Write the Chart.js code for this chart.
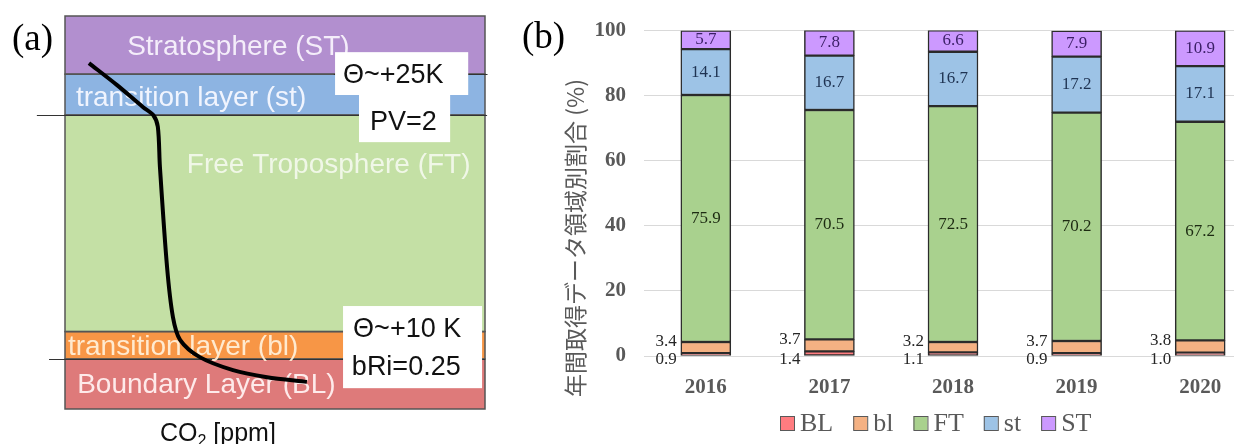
<!DOCTYPE html>
<html>
<head>
<meta charset="utf-8">
<script src="https://cdn.jsdelivr.net/npm/chart.js@4.4.1/dist/chart.umd.min.js"></script>
<style>
  html, body { margin: 0; padding: 0; background: #fff; overflow: hidden; width: 1234px; height: 444px; }
  #wrap { position: relative; width: 1234px; height: 444px; overflow: hidden; }
  #pa { position: absolute; left: 0; top: 0; }
  #pb { position: absolute; left: 520px; top: 0; }
</style>
</head>
<body>
<div id="wrap">
  <canvas id="pa" width="520" height="444"></canvas>
  <canvas id="pb" width="742" height="444"></canvas>
</div>
<script>
// ---- (b) yearly share of observations per region (%) ----
const years = ['2016', '2017', '2018', '2019', '2020'];
const regionNames = ['BL', 'bl', 'FT', 'st', 'ST'];
const shareBL = [0.9, 1.4, 1.1, 0.9, 1.0];
const shareBl = [3.4, 3.7, 3.2, 3.7, 3.8];
const shareFT = [75.9, 70.5, 72.5, 70.2, 67.2];
const shareSt = [14.1, 16.7, 16.7, 17.2, 17.1];
const shareST = [5.7, 7.8, 6.6, 7.9, 10.9];
const yTicks = [0, 20, 40, 60, 80, 100];
const yTitle = '年間取得データ領域別割合 (%)';

// ---- (a) schematic: layers (altitude units 0-100) and CO2 profile ----
const layerNames = ['BL', 'bl', 'FT', 'st', 'ST'];
const layerLabels = ['Boundary Layer (BL)', 'transition layer (bl)', 'Free Troposphere (FT)', 'transition layer (st)', 'Stratosphere (ST)'];
const layerBottoms = [0, 12.7, 19.7, 74.8, 85.2];
const layerTops = [12.7, 19.7, 74.8, 85.2, 100];
const curveCO2 = [5.7, 12.4, 18.6, 21.0, 22.1, 22.6, 24.3, 25.7, 27.4, 32.1, 40.0, 48.1, 57.6];
const curveAlt = [88.0, 82.4, 76.8, 74.8, 71.8, 61.6, 36.1, 23.4, 17.6, 13.2, 9.9, 8.1, 6.9];

const regionSeries = [shareBL, shareBl, shareFT, shareSt, shareST];
const barColors = ['#ff7c80', '#f4b183', '#a9d18e', '#9dc3e6', '#cc99ff'];
const valueColors = ['#262626', '#262626', '#1d2b12', '#1f3352', '#3b1f66'];
const layerColors = ['#de7a7a', '#f79646', '#c4e0a5', '#8db4e2', '#b28fcf'];

const SANS = '"Liberation Sans", Arial, sans-serif';
const SERIF = '"Liberation Serif", "Times New Roman", serif';

// ---------- panel (a) ----------
const schematic = {
  id: 'schematic',
  beforeDatasetsDraw(chart) {
    const { ctx, scales: { x, y } } = chart;
    const X = v => x.getPixelForValue(v), Y = v => y.getPixelForValue(v);
    ctx.save();
    // layers
    layerNames.forEach((n, i) => {
      const t = Y(layerTops[i]), b = Y(layerBottoms[i]);
      ctx.fillStyle = layerColors[i];
      ctx.fillRect(X(0), t, X(100) - X(0), b - t);
    });
    ctx.strokeStyle = '#555';
    ctx.lineWidth = 1.5;
    layerNames.forEach((n, i) => {
      const t = Y(layerTops[i]), b = Y(layerBottoms[i]);
      ctx.strokeRect(X(0), t, X(100) - X(0), b - t);
    });
    // thin reference lines at the layer boundaries
    ctx.strokeStyle = '#333';
    ctx.lineWidth = 1;
    [[85.2, 64, 100.6], [74.8, -6.7, 100.5], [12.7, -3.8, 100]].forEach(([h, a, b]) => {
      ctx.beginPath();
      ctx.moveTo(X(a), Math.round(Y(h)) + 0.5);
      ctx.lineTo(X(b), Math.round(Y(h)) + 0.5);
      ctx.stroke();
    });
    // layer names
    ctx.font = '28px ' + SANS;
    ctx.textBaseline = 'alphabetic';
    ctx.textAlign = 'left';
    const pos = [[2.9, 4.1], [0.7, 13.7], [29.0, 60.1], [2.6, 77.1], [14.8, 90.1]];
    const tcol = ['rgba(255,240,240,0.95)', 'rgba(255,238,215,0.95)', 'rgba(245,250,238,0.9)', 'rgba(245,248,255,0.95)', 'rgba(248,242,252,0.95)'];
    layerLabels.forEach((s, i) => {
      ctx.fillStyle = tcol[i];
      ctx.fillText(s, X(pos[i][0]), Y(pos[i][1]));
    });
    ctx.restore();
  },
  afterDatasetsDraw(chart) {
    const { ctx, scales: { x, y } } = chart;
    const X = v => x.getPixelForValue(v), Y = v => y.getPixelForValue(v);
    ctx.save();
    const boxes = [
      { x0: 64.3, x1: 96.0, y0: 90.8, y1: 79.9, lines: [['Θ~+25K', 66.2, 83.0]] },
      { x0: 70.0, x1: 91.7, y0: 79.9, y1: 67.9, lines: [['PV=2', 72.6, 71.0]] },
      { x0: 66.2, x1: 99.3, y0: 26.2, y1: 5.3, lines: [['Θ~+10 K', 68.6, 18.3], ['bRi=0.25', 68.3, 8.7]] }
    ];
    boxes.forEach(b => {
      ctx.fillStyle = '#fff';
      ctx.fillRect(X(b.x0), Y(b.y0), X(b.x1) - X(b.x0), Y(b.y1) - Y(b.y0));
      ctx.fillStyle = '#111';
      ctx.font = '27px ' + SANS;
      ctx.textAlign = 'left';
      ctx.textBaseline = 'alphabetic';
      b.lines.forEach(([s, lx, ly]) => ctx.fillText(s, X(lx), Y(ly)));
    });
    // axis caption below the box
    ctx.fillStyle = '#111';
    ctx.font = '25px ' + SANS;
    let cx = 160;
    ctx.fillText('CO', cx, 441);
    cx += ctx.measureText('CO').width;
    ctx.font = '16px ' + SANS;
    ctx.fillText('2', cx, 446);
    cx += ctx.measureText('2').width;
    ctx.font = '25px ' + SANS;
    ctx.fillText(' [ppm]', cx, 441);
    // panel letter
    ctx.font = '37px ' + SERIF;
    ctx.fillStyle = '#000';
    ctx.fillText('(a)', 12, 50);
    ctx.restore();
  }
};

new Chart(document.getElementById('pa'), {
  type: 'scatter',
  data: {
    datasets: [{
      data: curveCO2.map((v, i) => ({ x: v, y: curveAlt[i] })),
      showLine: true,
      borderColor: '#000',
      borderWidth: 4,
      pointRadius: 0,
      tension: 0.3,
      fill: false
    }]
  },
  options: {
    responsive: false,
    animation: false,
    events: [],
    layout: { padding: { left: 65, right: 35, top: 16, bottom: 35 } },
    scales: {
      x: { type: 'linear', min: 0, max: 100, display: false },
      y: { type: 'linear', min: 0, max: 100, display: false }
    },
    plugins: { legend: { display: false }, tooltip: { enabled: false } }
  },
  plugins: [schematic]
});

// ---------- panel (b) ----------
const barDecor = {
  id: 'barDecor',
  afterDatasetsDraw(chart) {
    const { ctx } = chart;
    ctx.save();
    ctx.font = '17px ' + SERIF;
    chart.data.datasets.forEach((ds, di) => {
      const meta = chart.getDatasetMeta(di);
      meta.data.forEach((el, i) => {
        const txt = ds.data[i].toFixed(1);
        const { x, y, base, width } = el.getProps(['x', 'y', 'base', 'width'], true);
        ctx.fillStyle = valueColors[di];
        if (di === 0) {
          ctx.textAlign = 'right'; ctx.textBaseline = 'middle';
          ctx.fillText(txt, x - width / 2 - 4, base + 4);
        } else if (di === 1) {
          ctx.textAlign = 'right'; ctx.textBaseline = 'middle';
          ctx.fillText(txt, x - width / 2 - 4, y);
        } else {
          ctx.textAlign = 'center'; ctx.textBaseline = 'middle';
          ctx.fillText(txt, x, (y + base) / 2);
        }
      });
    });
    ctx.restore();
  },
  afterDraw(chart) {
    const { ctx } = chart;
    ctx.save();
    // y axis title
    ctx.translate(55, 238);
    ctx.rotate(-Math.PI / 2);
    ctx.font = '23px "Noto Sans CJK JP", sans-serif';
    ctx.fillStyle = '#595959';
    ctx.textAlign = 'center';
    ctx.textBaseline = 'middle';
    ctx.fillText(yTitle, 0, 0);
    ctx.restore();

    ctx.save();
    // legend
    ctx.font = '26px ' + SERIF;
    ctx.textAlign = 'left';
    ctx.textBaseline = 'alphabetic';
    let lx = 260;
    chart.data.datasets.forEach((ds, di) => {
      ctx.fillStyle = barColors[di];
      ctx.fillRect(lx, 416, 14, 14);
      ctx.strokeStyle = '#595959';
      ctx.lineWidth = 1;
      ctx.strokeRect(lx + 0.5, 416.5, 14, 14);
      ctx.fillStyle = '#595959';
      ctx.fillText(ds.label, lx + 20, 431);
      lx += 20 + ctx.measureText(ds.label).width + 20;
    });
    // panel letter
    ctx.font = '37px ' + SERIF;
    ctx.fillStyle = '#000';
    ctx.fillText('(b)', 2, 48);
    ctx.restore();
  }
};

new Chart(document.getElementById('pb'), {
  type: 'bar',
  data: {
    labels: years,
    datasets: regionNames.map((name, i) => ({
      label: name,
      data: regionSeries[i],
      backgroundColor: barColors[i],
      borderColor: '#2b2b2b',
      borderWidth: 1.5,
      borderSkipped: false,
      barThickness: 50
    }))
  },
  options: {
    responsive: false,
    animation: false,
    events: [],
    layout: { padding: { top: 29, left: 0, right: 0, bottom: 0 } },
    scales: {
      x: {
        stacked: true,
        grid: { display: false },
        border: { display: false },
        ticks: { color: '#595959', padding: 11, font: { family: SERIF, size: 21, weight: 'bold' } },
        afterFit(s) { s.height = 88; }
      },
      y: {
        stacked: true,
        min: 0,
        max: 100,
        afterBuildTicks(s) { s.ticks = yTicks.map(v => ({ value: v })); },
        ticks: { color: '#595959', padding: 18, font: { family: SERIF, size: 21, weight: 'bold' } },
        grid: { color: '#d9d9d9', drawTicks: false, lineWidth: 1 },
        border: { display: false },
        afterFit(s) { s.width = 124; }
      }
    },
    plugins: { legend: { display: false }, tooltip: { enabled: false } }
  },
  plugins: [barDecor]
});
</script>
</body>
</html>
